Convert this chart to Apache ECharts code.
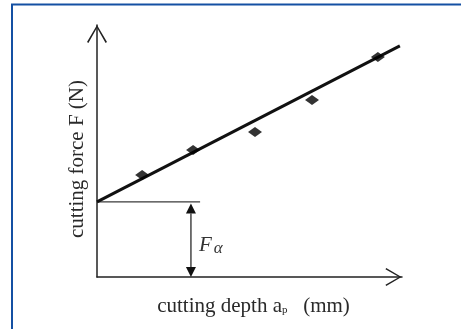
<!DOCTYPE html>
<html>
<head>
<meta charset="utf-8">
<script src="https://cdn.jsdelivr.net/npm/echarts@6/dist/echarts.min.js"></script>
<style>
  html, body { margin: 0; padding: 0; background: #fff; }
  #chart { width: 461px; height: 329px; }
</style>
</head>
<body>
<div id="chart"></div>
<script>
// Measured cutting force at increasing cutting depth (arbitrary units)
const depthValues = [1.48, 3.15, 5.18, 7.05, 9.21];
const forceValues = [4.05, 5.04, 5.75, 7.02, 8.73];

// Fitted straight line: start (intercept F_alpha) and end point
const fitX = [0, 9.93];
const fitY = [2.98, 9.17];

// Dimension marker for the intercept F_alpha
const interceptGuideEnd = [3.38];   // horizontal guide runs from x=0 to here
const interceptArrowX = [3.08];     // x position of the double-headed arrow

const axisMax = 10;
const serif = "'Liberation Serif', 'Times New Roman', serif";

// open chevron arrow head used at the end of both axes
const chevron = 'path://M10,0 L20,17 L18.6,17.9 L10,2.8 L1.4,17.9 L0,17 Z';

const chart = echarts.init(document.getElementById('chart'), null, { renderer: 'canvas' });

const fitData = fitX.map((x, i) => [x, fitY[i]]);
const pointData = depthValues.map((x, i) => [x, forceValues[i]]);
const Fa = fitY[0];

function renderIntercept(params, api) {
  const start = api.coord([0, Fa]);
  const end = api.coord([interceptGuideEnd[0], Fa]);
  const aTop = api.coord([interceptArrowX[0], Fa]);
  const aBot = api.coord([interceptArrowX[0], 0]);
  const h = 10, w = 5;
  const topTip = aTop[1] + 1.5;
  return {
    type: 'group',
    children: [
      { type: 'line', shape: { x1: start[0], y1: start[1], x2: end[0], y2: end[1] },
        style: { stroke: '#3a3a3a', lineWidth: 1.3 } },
      { type: 'line', shape: { x1: aTop[0], y1: topTip + h, x2: aBot[0], y2: aBot[1] - h },
        style: { stroke: '#2a2a2a', lineWidth: 1.3 } },
      { type: 'polygon', shape: { points: [[aTop[0], topTip], [aTop[0] - w, topTip + h], [aTop[0] + w, topTip + h]] },
        style: { fill: '#111' } },
      { type: 'polygon', shape: { points: [[aBot[0], aBot[1]], [aBot[0] - w, aBot[1] - h], [aBot[0] + w, aBot[1] - h]] },
        style: { fill: '#111' } },
      { type: 'text', x: aTop[0] + 8, y: (aTop[1] + aBot[1]) / 2 + 6,
        style: {
          text: '{f|F}{a|α}',
          verticalAlign: 'middle',
          rich: {
            f: { fontFamily: serif, fontStyle: 'italic', fontSize: 21, fill: '#333' },
            a: { fontFamily: serif, fontStyle: 'italic', fontSize: 17, fill: '#333', padding: [6, 0, 0, 2] }
          }
        } }
    ]
  };
}

chart.setOption({
  backgroundColor: '#fff',
  animation: false,
  graphic: [{
    type: 'polyline',
    shape: { points: [[12, 329], [12, 4.5], [461, 4.5]] },
    style: { stroke: '#1450a3', lineWidth: 2, fill: null },
    z: 100
  }],
  grid: { left: 97, right: 59, top: 25, bottom: 52, containLabel: false },
  xAxis: {
    type: 'value', min: 0, max: axisMax,
    axisLine: {
      show: true, onZero: false,
      lineStyle: { color: '#222', width: 1.5 },
      symbol: ['none', chevron], symbolSize: [18, 17], symbolOffset: [0, -8.5]
    },
    axisTick: { show: false }, axisLabel: { show: false }, splitLine: { show: false },
    name: '{t|cutting depth a}{s|p}{t|   (mm)}',
    nameLocation: 'middle', nameGap: 19,
    nameTextStyle: {
      padding: [0, 0, 0, 8],
      rich: {
        t: { fontFamily: serif, fontSize: 21, color: '#2a2a2a' },
        s: { fontFamily: serif, fontSize: 11, color: '#2a2a2a', padding: [8, 0, 0, 0] }
      }
    }
  },
  yAxis: {
    type: 'value', min: 0, max: axisMax,
    axisLine: {
      show: true, onZero: false,
      lineStyle: { color: '#222', width: 1.5 },
      symbol: ['none', chevron], symbolSize: [20, 18], symbolOffset: [0, -9]
    },
    axisTick: { show: false }, axisLabel: { show: false }, splitLine: { show: false },
    name: 'cutting force F (N)',
    nameLocation: 'middle', nameGap: 9, nameRotate: 90,
    nameTextStyle: { fontFamily: serif, fontSize: 21, color: '#2a2a2a', padding: [0, 16, 0, 0] }
  },
  series: [
    {
      type: 'line', data: fitData, showSymbol: false, silent: true,
      lineStyle: { color: '#111', width: 3 }, z: 3
    },
    {
      type: 'scatter', data: pointData, symbol: 'diamond', symbolSize: [14, 10],
      itemStyle: { color: '#000' }, silent: true, z: 4
    },
    {
      type: 'custom', data: [[0, Fa]], renderItem: renderIntercept, silent: true, z: 2
    }
  ]
});
</script>
</body>
</html>
